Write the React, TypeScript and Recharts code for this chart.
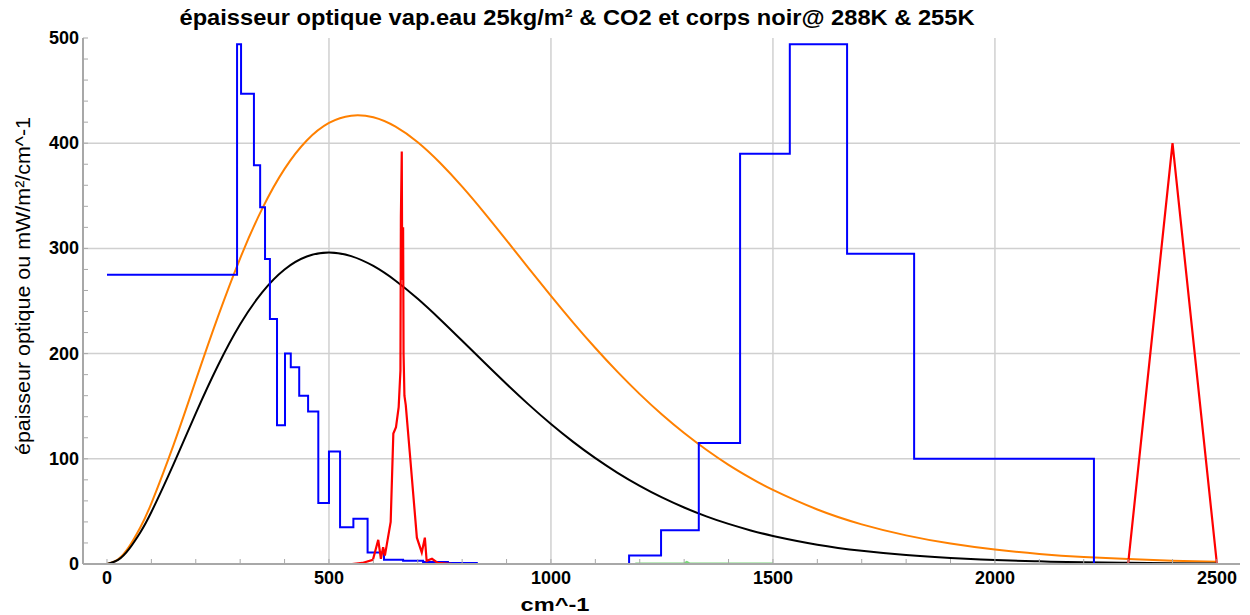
import React from 'react';
import { LineChart, Line, XAxis, YAxis, CartesianGrid } from 'recharts';

// Water vapour optical depth (step function, value holds until next x)
const waterX = [0, 293, 302, 331, 345, 356, 367, 383, 401, 414, 433, 453, 476, 500, 525, 555, 587, 624, 667, 712, 768, 833, 1176, 1248, 1333, 1426, 1538, 1667, 1818, 2223];
const waterTau = [275, 494, 447, 379, 339, 290, 233, 132, 200, 187, 160, 145, 58, 107, 35, 43, 11, 4, 3, 2, 1, 0, 8, 32, 115, 390, 494, 295, 100, 0];

// CO2 15 µm band optical depth
const co2X = [552, 575, 599, 611, 617, 622, 626, 639, 645, 651, 657, 661, 662, 664, 665, 667, 668, 670, 673, 682, 698, 709, 716, 720, 732, 745, 779];
const co2Tau = [0, 1, 4, 23, 5, 16, 8, 40, 124, 130, 149, 184, 330, 392, 270, 320, 200, 160, 151, 106, 25, 11, 25, 3, 5, 1, 0];

// CO2 4.3 µm band
const co2bX = [2300, 2400, 2500];
const co2bTau = [0, 400, 0];

// faint green trace near zero
const greenX = [1190, 1300, 1306, 1312, 1500];
const greenTau = [0.5, 0.5, 2, 0.5, 0.5];

// black-body curves (mW/m²/cm^-1)
const nu = [0, 25, 50, 75, 100, 150, 200, 250, 300, 350, 400, 450, 500, 550, 600, 650, 700, 750, 800, 850, 900, 950, 1000, 1050, 1100, 1150, 1200, 1250, 1300, 1350, 1400, 1450, 1500, 1600, 1700, 1800, 1900, 2000, 2100, 2200, 2300, 2400, 2500];
const bb288 = [0, 4.4, 16.5, 34.7, 57.7, 113.2, 174.5, 235.1, 290.6, 338.0, 375.6, 402.6, 419.3, 426.2, 424.6, 415.7, 400.9, 381.4, 358.7, 333.8, 307.6, 281.1, 254.9, 229.5, 205.3, 182.6, 161.5, 142.1, 124.5, 108.6, 94.3, 81.6, 70.4, 51.8, 37.7, 27.2, 19.4, 13.7, 9.6, 6.7, 4.7, 3.2, 2.2];
const bb255 = [0, 3.9, 14.4, 30.0, 49.4, 94.9, 143.2, 188.7, 227.9, 258.5, 280.0, 292.3, 296.1, 292.7, 283.3, 269.3, 252.1, 232.7, 212.2, 191.5, 171.1, 151.5, 133.1, 116.1, 100.6, 86.7, 74.3, 63.3, 53.7, 45.3, 38.1, 31.9, 26.7, 18.4, 12.6, 8.5, 5.7, 3.8, 2.5, 1.6, 1.1, 0.7, 0.4];

const xMinorTicks = Array.from({ length: 26 }, (_, i) => i * 100);
const yMinorTicks = Array.from({ length: 26 }, (_, i) => i * 20);

const zip = (xs: number[], ys: number[]) => xs.map((x, i) => ({ x, y: ys[i] }));
const waterData = zip(waterX, waterTau);
const co2Data = zip(co2X, co2Tau);
const co2bData = zip(co2bX, co2bTau);
const greenData = zip(greenX, greenTau);
const d288 = zip(nu, bb288);
const d255 = zip(nu, bb255);

const FONT = "'Liberation Sans', Arial, sans-serif";
const FRAME = '#a8a8a8';

const BottomTick = (props: any) => {
  const { x, y, payload } = props;
  const v = payload.value;
  return (
    <g>
      <line x1={x} y1={y} x2={x} y2={y - 5} stroke={FRAME} strokeWidth={1} />
      {v % 500 === 0 && (
        <text x={x} y={y + 20} textAnchor="middle" fontFamily={FONT} fontWeight="bold" fontSize={18} fill="#000">
          {v}
        </text>
      )}
    </g>
  );
};

const TopTick = (props: any) => {
  const { x, y } = props;
  return <line x1={x} y1={y} x2={x} y2={y + 5} stroke={FRAME} strokeWidth={1} />;
};

const LeftTick = (props: any) => {
  const { x, y, payload } = props;
  const v = payload.value;
  return (
    <g>
      <line x1={x} y1={y} x2={x + 5} y2={y} stroke={FRAME} strokeWidth={1} />
      {v % 100 === 0 && (
        <text x={x - 4} y={y + 6} textAnchor="end" fontFamily={FONT} fontWeight="bold" fontSize={18} fill="#000">
          {v}
        </text>
      )}
    </g>
  );
};

const RightTick = (props: any) => {
  const { x, y } = props;
  return <line x1={x} y1={y} x2={x - 5} y2={y} stroke={FRAME} strokeWidth={1} />;
};

export default function App() {
  return (
    <div style={{ position: 'absolute', left: 0, top: 0, width: 1250, height: 615, background: '#fff' }}>
      <LineChart width={1250} height={615} margin={{ top: 38, right: 10, bottom: 11, left: 0 }}>
        <CartesianGrid
          stroke="#d0d0d0"
          strokeWidth={1.5}
          horizontalValues={[100, 200, 300, 400]}
          verticalValues={[500, 1000, 1500, 2000]}
        />
        <XAxis
          dataKey="x"
          type="number"
          domain={[-54, 2552]}
          ticks={xMinorTicks}
          interval={0}
          tickSize={0}
          tickMargin={0}
          height={40}
          tick={<BottomTick />}
          axisLine={{ stroke: FRAME, strokeWidth: 2 }}
          allowDataOverflow
        />
        <XAxis
          xAxisId="top"
          orientation="top"
          dataKey="x"
          type="number"
          domain={[-54, 2552]}
          ticks={xMinorTicks}
          interval={0}
          tickSize={0}
          tickMargin={0}
          height={0}
          tick={<TopTick />}
          axisLine={{ stroke: FRAME, strokeWidth: 2 }}
          allowDataOverflow
        />
        <YAxis
          type="number"
          domain={[0, 500]}
          ticks={yMinorTicks}
          interval={0}
          tickSize={0}
          tickMargin={0}
          width={83}
          tick={<LeftTick />}
          axisLine={{ stroke: FRAME, strokeWidth: 2 }}
          allowDataOverflow
        />
        <YAxis
          yAxisId="right"
          orientation="right"
          type="number"
          domain={[0, 500]}
          ticks={yMinorTicks}
          interval={0}
          tickSize={0}
          tickMargin={0}
          width={0}
          tick={<RightTick />}
          axisLine={{ stroke: FRAME, strokeWidth: 2 }}
          allowDataOverflow
        />
        <Line data={greenData} dataKey="y" type="linear" stroke="#78d878" strokeWidth={2} dot={false} isAnimationActive={false} />
        <Line data={d288} dataKey="y" type="natural" stroke="#ff8000" strokeWidth={2} dot={false} isAnimationActive={false} />
        <Line data={d255} dataKey="y" type="natural" stroke="#000000" strokeWidth={2} dot={false} isAnimationActive={false} />
        <Line data={waterData} dataKey="y" type="stepAfter" stroke="#0000ff" strokeWidth={2} dot={false} isAnimationActive={false} />
        <Line data={co2Data} dataKey="y" type="linear" stroke="#ff0000" strokeWidth={2.2} dot={false} isAnimationActive={false} />
        <Line data={co2bData} dataKey="y" type="linear" stroke="#ff0000" strokeWidth={2.2} dot={false} isAnimationActive={false} />
      </LineChart>
      <svg width={1250} height={615} style={{ position: 'absolute', left: 0, top: 0, pointerEvents: 'none' }}>
        <text
          x={577}
          y={25}
          textAnchor="middle"
          fontFamily={FONT}
          fontWeight="bold"
          fontSize={22}
          textLength={795}
          lengthAdjust="spacingAndGlyphs"
          fill="#000"
        >
          épaisseur optique vap.eau 25kg/m² &amp; CO2 et corps noir@ 288K &amp; 255K
        </text>
        <text
          x={555}
          y={611}
          textAnchor="middle"
          fontFamily={FONT}
          fontWeight="bold"
          fontSize={19}
          textLength={69}
          lengthAdjust="spacingAndGlyphs"
          fill="#000"
        >
          cm^-1
        </text>
        <text
          transform="translate(30, 286) rotate(-90)"
          textAnchor="middle"
          fontFamily={FONT}
          fontSize={21}
          textLength={338}
          lengthAdjust="spacingAndGlyphs"
          fill="#000"
        >
          épaisseur optique ou mW/m²/cm^-1
        </text>
      </svg>
    </div>
  );
}
